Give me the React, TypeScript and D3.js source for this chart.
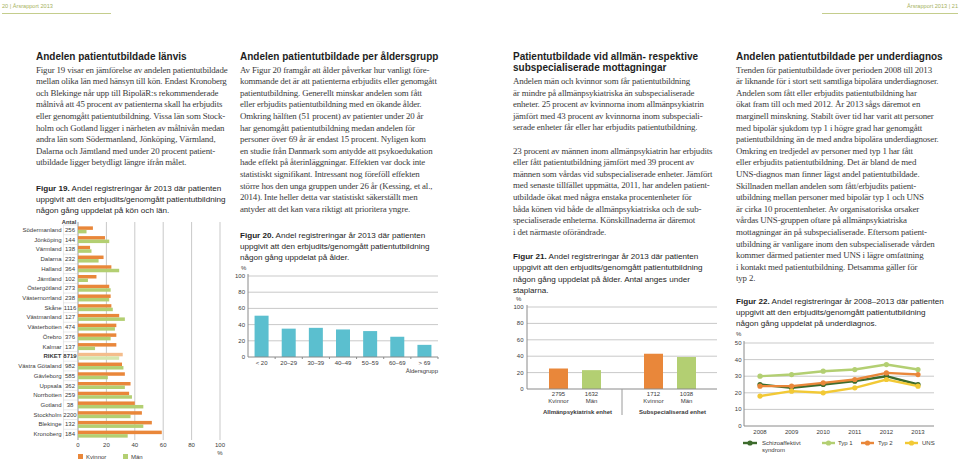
import React from "react";
import * as d3 from "d3";

// ---------- DATA ----------
const regions = ["Södermanland","Jönköping","Värmland","Dalarna","Halland","Jämtland","Östergötland","Västernorrland","Skåne","Västmanland","Västerbotten","Örebro","Kalmar","RIKET","Västra Götaland","Gävleborg","Uppsala","Norrbotten","Gotland","Stockholm","Blekinge","Kronoberg"];
const antal = [256,144,138,232,364,102,273,238,1116,127,474,376,137,8719,982,585,362,259,38,2200,132,184];
const kvinnor19 = [10.5,19,8.5,18,23.5,13,22,23,23.5,29,27,27,27,31.5,31,33,37,36,40,45,52,59];
const man19 = [6,22,9.5,14.5,29,7,23,22,24.5,33,26,23,12,29,32,21,33,38,46,37,46,35];
const xTicks19 = [0,20,40,60,80,100];

const ageGroups = ["< 20","20–29","30–39","40–49","50–59","60–69","> 69"];
const ageValues = [51,35,36,34,32,25,15];
const yTicks100 = [0,20,40,60,80,100];

const units = ["Allmänpsykiatrisk enhet","Subspecialiserad enhet"];
const sexes = ["Kvinnor","Män"];
const unitValues = [[25,23],[43,39]];
const unitCounts = [["2795","1632"],["1712","1038"]];

const years = ["2008","2009","2010","2011","2012","2013"];
const diagSeries = [
  { name: "Schizoaffektivt syndrom", values: [25,23,25,27,30,25] },
  { name: "Typ 1", values: [30,31,33,34,37,34] },
  { name: "Typ 2", values: [24,24,26,28,32,31] },
  { name: "UNS", values: [18,21,20,23,28,24] },
];
const yTicks50 = [0,10,20,30,40,50];

const col1Text = [
  "Figur 19 visar en jämförelse av andelen patientutbildade",
  "mellan olika län med hänsyn till kön. Endast Kronoberg",
  "och Blekinge når upp till BipoläR:s rekommenderade",
  "målnivå att 45 procent av patienterna skall ha erbjudits",
  "eller genomgått patientutbildning. Vissa län som Stock-",
  "holm och Gotland ligger i närheten av målnivån medan",
  "andra län som Södermanland, Jönköping, Värmland,",
  "Dalarna och Jämtland med under 20 procent patient-",
  "utbildade ligger betydligt längre ifrån målet.",
];
const col2Text = [
  "Av Figur 20 framgår att ålder påverkar hur vanligt före-",
  "kommande det är att patienterna erbjudits eller genomgått",
  "patientutbildning. Generellt minskar andelen som fått",
  "eller erbjudits patientutbildning med en ökande ålder.",
  "Omkring hälften (51 procent) av patienter under 20 år",
  "har genomgått patientutbildning medan andelen för",
  "personer över 69 år är endast 15 procent. Nyligen kom",
  "en studie från Danmark som antydde att psykoedukation",
  "hade effekt på återinläggningar. Effekten var dock inte",
  "statistiskt signifikant. Intressant nog föreföll effekten",
  "större hos den unga gruppen under 26 år (Kessing, et al.,",
  "2014). Inte heller detta var statistiskt säkerställt men",
  "antyder att det kan vara riktigt att prioritera yngre.",
];
const col3TextA = [
  "Andelen män och kvinnor som får patientutbildning",
  "är mindre på allmänpsykiatriska än subspecialiserade",
  "enheter. 25 procent av kvinnorna inom allmänpsykiatrin",
  "jämfört med 43 procent av kvinnorna inom subspeciali-",
  "serade enheter får eller har erbjudits patientutbildning.",
];
const col3TextB = [
  "23 procent av männen inom allmänpsykiatrin har erbjudits",
  "eller fått patientutbildning jämfört med 39 procent av",
  "männen som vårdas vid subspecialiserade enheter. Jämfört",
  "med senaste tillfället uppmätta, 2011, har andelen patient-",
  "utbildade ökat med några enstaka procentenheter för",
  "båda könen vid både de allmänpsykiatriska och de sub-",
  "specialiserade enheterna. Könskillnaderna är däremot",
  "i det närmaste oförändrade.",
];
const col4Text = [
  "Trenden för patientutbildade över perioden 2008 till 2013",
  "är liknande för i stort sett samtliga bipolära underdiagnoser.",
  "Andelen som fått eller erbjudits patientutbildning har",
  "ökat fram till och med 2012. År 2013 sågs däremot en",
  "marginell minskning. Stabilt över tid har varit att personer",
  "med bipolär sjukdom typ 1 i högre grad har genomgått",
  "patientutbildning än de med andra bipolära underdiagnoser.",
  "Omkring en tredjedel av personer med typ 1 har fått",
  "eller erbjudits patientutbildning. Det är bland de med",
  "UNS-diagnos man finner lägst andel patientutbildade.",
  "Skillnaden mellan andelen som fått/erbjudits patient-",
  "utbildning mellan personer med bipolär typ 1 och UNS",
  "är cirka 10 procentenheter. Av organisatoriska orsaker",
  "vårdas UNS-gruppen oftare på allmänpsykiatriska",
  "mottagningar än på subspecialiserade. Eftersom patient-",
  "utbildning är vanligare inom den subspecialiserade vården",
  "kommer därmed patienter med UNS i lägre omfattning",
  "i kontakt med patientutbildning. Detsamma gäller för",
  "typ 2.",
];
const cap19 = ["Figur 19.", " Andel registreringar år 2013 där patienten", "uppgivit att den erbjudits/genomgått patientutbildning", "någon gång uppdelat på kön och län."];
const cap20 = ["Figur 20.", " Andel registreringar år 2013 där patienten", "uppgivit att den erbjudits/genomgått patientutbildning", "någon gång uppdelat på ålder."];
const cap21 = ["Figur 21.", " Andel registreringar år 2013 där patienten", "uppgivit att den erbjudits/genomgått patientutbildning", "någon gång uppdelat på ålder. Antal anges under", "staplarna."];
const cap22 = ["Figur 22.", " Andel registreringar år 2008–2013 där patienten", "uppgivit att den erbjudits/genomgått patientutbildning", "någon gång uppdelat på underdiagnos."];

// ---------- STYLE ----------
const SERIF = "'Liberation Serif', 'DejaVu Serif', serif";
const SANS = "'Liberation Sans Narrow', 'Liberation Sans', Arial, sans-serif";
const ORANGE = "#e9873a";
const GREEN = "#b3cf72";
const ORANGE_L = "#f4bd8c";
const GREEN_L = "#d6e6ae";
const TEAL = "#5bbfcf";
const DKGREEN = "#3d6b2c";
const YELLOW = "#f2c935";
const GRID = "#c9c9c9";
const TXT = "#3a3a3a";
const BODY_SIZE = 8.9;
const LH = 11.6;

function Body({ lines, x, y }: { lines: string[]; x: number; y: number }) {
  return (
    <g fontFamily={SERIF} fontSize={BODY_SIZE} fill={TXT} letterSpacing={-0.15}>
      {lines.map((l, i) => (
        <text key={i} x={x} y={y + i * LH}>{l}</text>
      ))}
    </g>
  );
}
function Heading({ lines, x, y }: { lines: string[]; x: number; y: number }) {
  return (
    <g fontFamily={SANS} fontSize={10} fontWeight="bold" fill="#1e1e1e">
      {lines.map((l, i) => (
        <text key={i} x={x} y={y + i * 11.2}>{l}</text>
      ))}
    </g>
  );
}
function Caption({ lines, x, y, step = 11.2 }: { lines: string[]; x: number; y: number; step?: number }) {
  return (
    <g fontFamily={SANS} fontSize={8.1} fill="#1e1e1e">
      <text x={x} y={y}>
        <tspan fontWeight="bold">{lines[0]}</tspan>
        <tspan>{lines[1]}</tspan>
      </text>
      {lines.slice(2).map((l, i) => (
        <text key={i} x={x} y={y + (i + 1) * step}>{l}</text>
      ))}
    </g>
  );
}

// ---------- CHART 19 ----------
function Chart19() {
  const x = d3.scaleLinear().domain([0, 100]).range([78, 220]);
  const y = d3.scaleBand().domain(regions).range([225, 439]);
  const bh = 3.5;
  return (
    <g fontFamily={SANS} fontSize={6} fill={TXT}>
      {xTicks19.map((t) => (
        <line key={t} x1={x(t)} x2={x(t)} y1={222} y2={440} stroke={t === 0 ? "#9a9a9a" : GRID} strokeWidth={1} />
      ))}
      <text x={69} y={224} textAnchor="middle" fontWeight="bold" fontSize={5.8}>Antal</text>
      {regions.map((r, i) => {
        const c = (y(r) as number) + y.bandwidth() / 2;
        const isR = r === "RIKET";
        return (
          <g key={r}>
            <line x1={63} x2={77} y1={y(r) as number} y2={y(r) as number} stroke="#dcdcdc" strokeWidth={0.6} />
            <line x1={63.5} x2={63.5} y1={y(r) as number} y2={(y(r) as number) + y.bandwidth()} stroke="#dcdcdc" strokeWidth={0.6} />
            <text x={61.5} y={c + 2} textAnchor="end" fontWeight={isR ? "bold" : "normal"}>{r}</text>
            <text x={70} y={c + 2} textAnchor="middle" fontWeight={isR ? "bold" : "normal"}>{antal[i]}</text>
            <rect x={x(0)} y={c - bh} width={x(kvinnor19[i]) - x(0)} height={bh} fill={isR ? ORANGE_L : ORANGE} />
            <rect x={x(0)} y={c} width={x(man19[i]) - x(0)} height={bh} fill={isR ? GREEN_L : GREEN} />
          </g>
        );
      })}
      {xTicks19.map((t) => (
        <text key={t} x={x(t)} y={446.5} textAnchor="middle">{t}</text>
      ))}
      <text x={220} y={455} textAnchor="middle">%</text>
      <rect x={78} y={454} width={5} height={5} fill={ORANGE} />
      <text x={86} y={458.5}>Kvinnor</text>
      <rect x={123} y={454} width={5} height={5} fill={GREEN} />
      <text x={131} y={458.5}>Män</text>
    </g>
  );
}

// ---------- CHART 20 ----------
function Chart20() {
  const x = d3.scaleBand().domain(ageGroups).range([248, 438]);
  const y = d3.scaleLinear().domain([0, 100]).range([357, 276]);
  const bw = 14;
  return (
    <g fontFamily={SANS} fontSize={6} fill={TXT}>
      {yTicks100.map((t) => (
        <g key={t}>
          {t > 0 && <line x1={248} x2={438} y1={y(t)} y2={y(t)} stroke={GRID} />}
          <text x={245} y={y(t) + 2} textAnchor="end">{t}</text>
        </g>
      ))}
      <text x={241} y={270}>%</text>
      {ageGroups.map((g, i) => (
        <rect key={g} x={(x(g) as number) + x.bandwidth() / 2 - bw / 2} y={y(ageValues[i])} width={bw} height={y(0) - y(ageValues[i])} fill={TEAL} />
      ))}
      <line x1={248} x2={248} y1={274} y2={357} stroke="#8a8a8a" />
      <line x1={248} x2={438} y1={357} y2={357} stroke="#8a8a8a" />
      {ageGroups.map((g) => (
        <line key={g} x1={(x(g) as number) + x.bandwidth()} x2={(x(g) as number) + x.bandwidth()} y1={357} y2={359} stroke="#8a8a8a" />
      ))}
      {ageGroups.map((g) => (
        <text key={g} x={(x(g) as number) + x.bandwidth() / 2} y={365} textAnchor="middle">{g}</text>
      ))}
      <text x={438} y={373} textAnchor="end">Åldersgrupp</text>
    </g>
  );
}

// ---------- CHART 21 ----------
function Chart21() {
  const gx = d3.scaleBand().domain(units).range([527, 717]);
  const ix = d3.scaleBand().domain(sexes).range([15, 81]);
  const y = d3.scaleLinear().domain([0, 100]).range([389, 307]);
  const bw = 19;
  return (
    <g fontFamily={SANS} fontSize={6} fill={TXT}>
      {yTicks100.map((t) => (
        <g key={t}>
          {t > 0 && <line x1={527} x2={717} y1={y(t)} y2={y(t)} stroke={GRID} />}
          <text x={523.5} y={y(t) + 2} textAnchor="end">{t}</text>
        </g>
      ))}
      <text x={516} y={301}>%</text>
      {units.map((u, gi) => (
        <g key={u}>
          {sexes.map((s, si) => {
            const cx = (gx(u) as number) + (ix(s) as number) + ix.bandwidth() / 2;
            const v = unitValues[gi][si];
            return (
              <g key={s}>
                <rect x={cx - bw / 2} y={y(v)} width={bw} height={y(0) - y(v)} fill={si === 0 ? ORANGE : GREEN} />
                <text x={cx} y={396} textAnchor="middle">{unitCounts[gi][si]}</text>
                <text x={cx} y={403} textAnchor="middle">{s}</text>
              </g>
            );
          })}
          <text x={(gx(u) as number) + gx.bandwidth() / 2 + 3} y={413.5} textAnchor="middle" fontWeight="bold">{u}</text>
        </g>
      ))}
      <line x1={527} x2={527} y1={305} y2={389} stroke="#8a8a8a" />
      <line x1={527} x2={717} y1={389} y2={389} stroke="#8a8a8a" />
      <line x1={gx(units[1]) as number} x2={gx(units[1]) as number} y1={389} y2={415} stroke="#9a9a9a" />
    </g>
  );
}

// ---------- CHART 22 ----------
const diagColors = [DKGREEN, GREEN, ORANGE, YELLOW];
function Chart22() {
  const x = d3.scalePoint().domain(years).range([760, 918]);
  const y = d3.scaleLinear().domain([0, 50]).range([426, 343]);
  const line = d3.line<number>().x((_, i) => x(years[i]) as number).y((d) => y(d));
  const legendX = [[743, 757, 762], [822, 835, 838], [861, 874, 878], [905, 918, 922]];
  return (
    <g fontFamily={SANS} fontSize={6} fill={TXT}>
      {yTicks50.map((t) => (
        <g key={t}>
          {t > 0 && <line x1={744} x2={934} y1={y(t)} y2={y(t)} stroke={GRID} />}
          <text x={741.5} y={y(t) + 2} textAnchor="end">{t}</text>
        </g>
      ))}
      <text x={736} y={336}>%</text>
      <line x1={744} x2={744} y1={341} y2={426} stroke="#8a8a8a" />
      <line x1={744} x2={934} y1={426} y2={426} stroke="#8a8a8a" />
      {years.map((yr) => (
        <text key={yr} x={x(yr) as number} y={434} textAnchor="middle">{yr}</text>
      ))}
      {diagSeries.map((s, si) => (
        <g key={s.name}>
          <path d={line(s.values) || ""} fill="none" stroke={diagColors[si]} strokeWidth={2.4} />
          {s.values.map((v, i) => (
            <circle key={i} cx={x(years[i]) as number} cy={y(v)} r={2.6} fill={diagColors[si]} />
          ))}
        </g>
      ))}
      {diagSeries.map((s, si) => {
        const [a, b, t] = legendX[si];
        return (
          <g key={s.name}>
            <line x1={a} x2={b} y1={443} y2={443} stroke={diagColors[si]} strokeWidth={2.4} />
            <circle cx={(a + b) / 2} cy={443} r={2.6} fill={diagColors[si]} />
            {si === 0 ? (
              <>
                <text x={t} y={445}>Schizoaffektivt</text>
                <text x={t} y={452}>syndrom</text>
              </>
            ) : (
              <text x={t} y={445}>{s.name}</text>
            )}
          </g>
        );
      })}
    </g>
  );
}

export default function App() {
  return (
    <svg width={960} height={461} viewBox="0 0 960 461" style={{ position: "absolute", left: 0, top: 0, background: "#fff" }}>
      <rect width={960} height={461} fill="#fff" />
      <g fontFamily={SANS} fontSize={5.6} fill="#a6b25e">
        <text x={2} y={8}>20 | Årsrapport 2013</text>
        <text x={958} y={8} textAnchor="end">Årsrapport 2013 | 21</text>
      </g>
      <line x1={2} x2={111} y1={13.5} y2={13.5} stroke="#c4cd8c" />
      <line x1={822} x2={958} y1={13.5} y2={13.5} stroke="#c4cd8c" />

      <Heading lines={["Andelen patientutbildade länvis"]} x={36} y={59.5} />
      <Body lines={col1Text} x={36} y={72.5} />
      <Caption lines={cap19} x={36} y={191} />
      <Chart19 />

      <Heading lines={["Andelen patientutbildade per åldersgrupp"]} x={240} y={59.5} />
      <Body lines={col2Text} x={240} y={72.5} />
      <Caption lines={cap20} x={240} y={238} />
      <Chart20 />

      <Heading lines={["Patientutbildade vid allmän- respektive", "subspecialiserade mottagningar"]} x={513} y={59.5} />
      <Body lines={col3TextA} x={513} y={84} />
      <Body lines={col3TextB} x={513} y={153.5} />
      <Caption lines={cap21} x={513} y={259} step={11.3} />
      <Chart21 />

      <Heading lines={["Andelen patientutbildade per underdiagnos"]} x={736} y={59.5} />
      <Body lines={col4Text} x={736} y={72.5} />
      <Caption lines={cap22} x={736} y={304} />
      <Chart22 />
    </svg>
  );
}
